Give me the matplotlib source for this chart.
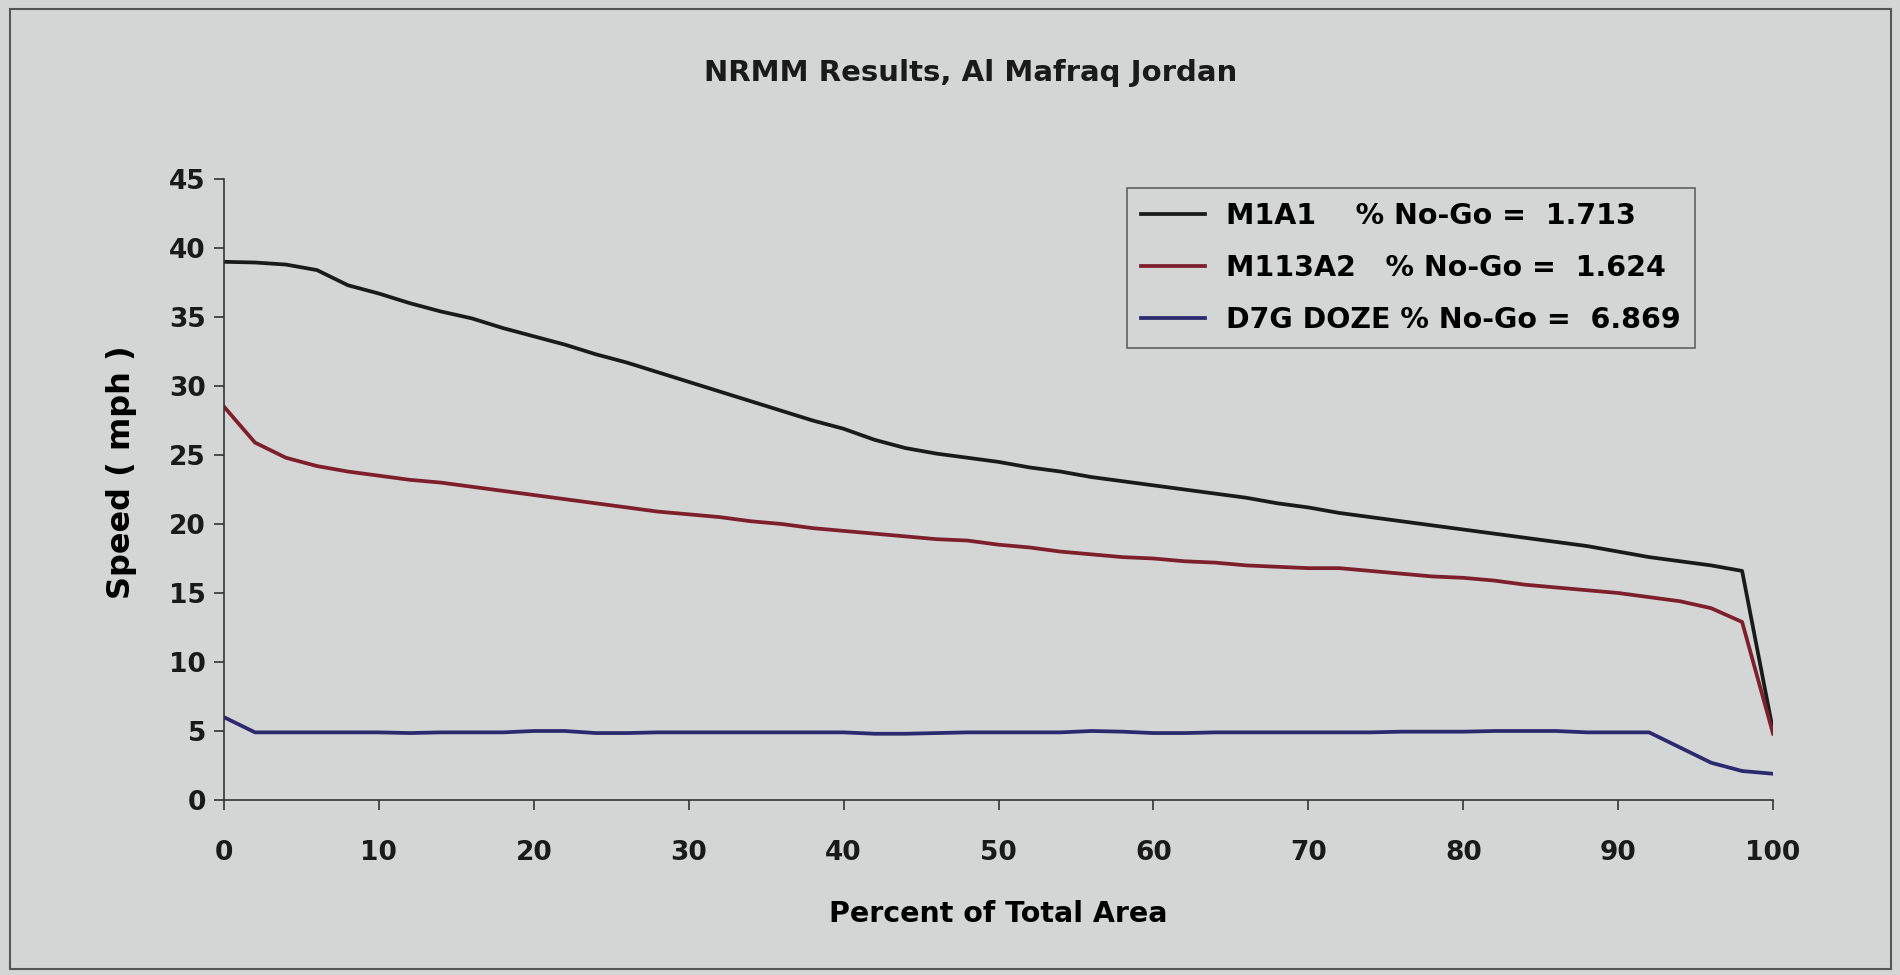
import matplotlib
matplotlib.use("Agg")
import matplotlib.pyplot as plt
from matplotlib.patches import Rectangle

# NRMM speed profiles, Al Mafraq Jordan
pct_area = list(range(0, 101, 2))

m1a1 = [39.0, 38.95, 38.8, 38.4, 37.3, 36.7, 36.0, 35.4, 34.9, 34.2,
        33.6, 33.0, 32.3, 31.7, 31.0, 30.3, 29.6, 28.9, 28.2, 27.5,
        26.9, 26.1, 25.5, 25.1, 24.8, 24.5, 24.1, 23.8, 23.4, 23.1,
        22.8, 22.5, 22.2, 21.9, 21.5, 21.2, 20.8, 20.5, 20.2, 19.9,
        19.6, 19.3, 19.0, 18.7, 18.4, 18.0, 17.6, 17.3, 17.0, 16.6,
        5.0]
m113a2 = [28.5, 25.9, 24.8, 24.2, 23.8, 23.5, 23.2, 23.0, 22.7, 22.4,
          22.1, 21.8, 21.5, 21.2, 20.9, 20.7, 20.5, 20.2, 20.0, 19.7,
          19.5, 19.3, 19.1, 18.9, 18.8, 18.5, 18.3, 18.0, 17.8, 17.6,
          17.5, 17.3, 17.2, 17.0, 16.9, 16.8, 16.8, 16.6, 16.4, 16.2,
          16.1, 15.9, 15.6, 15.4, 15.2, 15.0, 14.7, 14.4, 13.9, 12.9,
          4.8]
d7g = [6.0, 4.9, 4.9, 4.9, 4.9, 4.9, 4.85, 4.9, 4.9, 4.9,
       5.0, 5.0, 4.85, 4.85, 4.9, 4.9, 4.9, 4.9, 4.9, 4.9,
       4.9, 4.8, 4.8, 4.85, 4.9, 4.9, 4.9, 4.9, 5.0, 4.95,
       4.85, 4.85, 4.9, 4.9, 4.9, 4.9, 4.9, 4.9, 4.95, 4.95,
       4.95, 5.0, 5.0, 5.0, 4.9, 4.9, 4.9, 3.8, 2.7, 2.1,
       1.9]

labels = ["M1A1    % No-Go =  1.713",
          "M113A2   % No-Go =  1.624",
          "D7G DOZE % No-Go =  6.869"]
colors = ["#1a1a1a", "#7e1f2c", "#2a2a6e"]

bg = "#d4d5d5"
plt.rcParams['font.family'] = ['DejaVu Sans']
plt.rcParams['font.weight'] = 'bold'

fig = plt.figure(figsize=(19, 9.75), dpi=100, facecolor=bg)
ax = fig.add_axes([0.1179, 0.1795, 0.8153, 0.6369])
ax.set_facecolor(bg)

for ys, lab, c in zip([m1a1, m113a2, d7g], labels, colors):
    ax.plot(pct_area, ys, color=c, linewidth=2.7, label=lab)

ax.set_xlim(0, 100)
ax.set_ylim(0, 45)
ax.set_xticks(range(0, 101, 10))
ax.set_yticks(range(0, 46, 5))
for s in ['top', 'right']:
    ax.spines[s].set_visible(False)
for s in ['left', 'bottom']:
    ax.spines[s].set_color('#333333')
    ax.spines[s].set_linewidth(1.2)
ax.tick_params(axis='both', direction='out', length=7, width=1.2,
               colors='#333333', labelcolor='#1a1a1a', labelsize=19)
ax.tick_params(axis='x', pad=22)
ax.tick_params(axis='y', pad=6)

ax.set_xlabel("Percent of Total Area", fontsize=20.5, fontweight='bold', labelpad=24)
ax.set_ylabel("Speed ( mph )", fontsize=23, fontweight='bold')
ax.yaxis.set_label_coords(-0.056, 0.528)
fig.text(0.511, 1 - 73 / 975, "NRMM Results, Al Mafraq Jordan", ha='center', va='center',
         fontsize=21, fontweight='bold', color='#1a1a1a')

leg = ax.legend(loc='upper left', bbox_to_anchor=(0.583, 0.9855), fontsize=20.5,
                frameon=True, fancybox=False, handlelength=2.25, labelspacing=0.84,
                borderpad=0.5, handletextpad=0.72, borderaxespad=0)
leg.get_frame().set_edgecolor('#444444')
leg.get_frame().set_facecolor(bg)
leg.get_frame().set_linewidth(1.2)

fig.patches.append(Rectangle((0.005, 0.006), 0.99, 0.985, transform=fig.transFigure,
                             fill=False, edgecolor='#555555', linewidth=1.5))

fig.savefig("out.png", dpi=100, facecolor=bg)
